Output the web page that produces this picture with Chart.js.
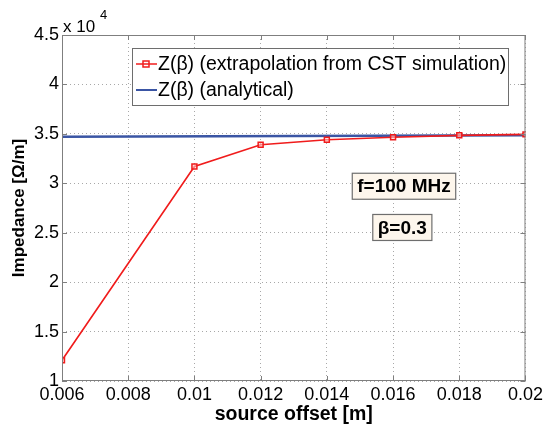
<!DOCTYPE html>
<html>
<head>
<meta charset="utf-8">
<script src="https://cdn.jsdelivr.net/npm/chart.js@4"></script>
<style>
  html, body { margin: 0; padding: 0; background: #fff; }
  #wrap { width: 546px; height: 426px; }
</style>
</head>
<body>
<div id="wrap"><canvas id="chart" width="546" height="426"></canvas></div>
<script>
// source offset [m]
const offsetsCst = [0.006, 0.006, 0.01, 0.012, 0.014, 0.016, 0.018, 0.02];
// Z(beta) extrapolated from CST, Ohm/m (first point is below the axis, no marker)
const impedanceCst = [0, 12100, 31700, 33900, 34400, 34650, 34850, 34950];
const offsetsAnalytical = [0.006, 0.02];
const impedanceAnalytical = [34700, 34870];

const xTicks = [0.006, 0.008, 0.01, 0.012, 0.014, 0.016, 0.018, 0.02];
const yTicks = [10000, 15000, 20000, 25000, 30000, 35000, 40000, 45000];

const labelCst = 'Z(β) (extrapolation from CST simulation)';
const labelAnalytical = 'Z(β) (analytical)';
const notes = ['f=100 MHz', 'β=0.3'];

const FONT = "'Liberation Sans', Arial, sans-serif";
const RED = '#f01c1c';
const BLUE = '#3a55a4';

const toPoints = (xs, ys) => xs.map((x, i) => ({ x, y: ys[i] }));

// box, ticks, legend, text boxes and the exponent label
const matlabDecor = {
  id: 'matlabDecor',
  afterDraw(chart) {
    const { ctx, chartArea: { left, top, right, bottom }, scales: { x, y } } = chart;
    ctx.save();
    ctx.strokeStyle = '#7f7f7f';
    ctx.lineWidth = 1;
    ctx.strokeRect(left + 0.5, top + 0.5, right - left - 1, bottom - top - 1);
    ctx.beginPath();
    xTicks.forEach((v) => {
      const px = Math.round(x.getPixelForValue(v)) + 0.5;
      ctx.moveTo(px, bottom); ctx.lineTo(px, bottom - 5);
      ctx.moveTo(px, top); ctx.lineTo(px, top + 5);
    });
    yTicks.forEach((v) => {
      const py = Math.round(y.getPixelForValue(v)) + 0.5;
      ctx.moveTo(left, py); ctx.lineTo(left + 5, py);
      ctx.moveTo(right, py); ctx.lineTo(right - 5, py);
    });
    ctx.stroke();

    // x 10^4
    ctx.fillStyle = '#000';
    ctx.textBaseline = 'alphabetic';
    ctx.textAlign = 'left';
    ctx.font = `17px ${FONT}`;
    ctx.fillText('x 10', left + 1, top - 3);
    ctx.font = `13px ${FONT}`;
    ctx.fillText('4', left + 38, top - 16);

    // legend
    const lx = 132, ly = 48, lw = 376, lh = 57;
    ctx.fillStyle = '#fff';
    ctx.fillRect(lx, ly, lw, lh);
    ctx.strokeStyle = '#6e6e6e';
    ctx.lineWidth = 1;
    ctx.strokeRect(lx + 0.5, ly + 0.5, lw, lh);
    const rows = [
      { label: labelCst, color: RED, width: 1.5, marker: true, y: ly + 16 },
      { label: labelAnalytical, color: BLUE, width: 2, marker: false, y: ly + 42 },
    ];
    rows.forEach((r) => {
      ctx.strokeStyle = r.color;
      ctx.lineWidth = r.width;
      ctx.beginPath();
      ctx.moveTo(lx + 4, r.y); ctx.lineTo(lx + 25, r.y);
      ctx.stroke();
      if (r.marker) {
        ctx.lineWidth = 1.5;
        ctx.strokeRect(lx + 11, r.y - 3, 6, 6);
      }
      ctx.fillStyle = '#000';
      ctx.font = `19.5px ${FONT}`;
      ctx.textBaseline = 'middle';
      ctx.fillText(r.label, lx + 26, r.y + 1);
    });

    // text boxes
    const boxes = [
      { text: notes[0], cx: x.getPixelForValue(0.01633), cy: y.getPixelForValue(29700) },
      { text: notes[1], cx: x.getPixelForValue(0.01628), cy: y.getPixelForValue(25530) },
    ];
    ctx.font = `bold 19px ${FONT}`;
    ctx.textAlign = 'center';
    ctx.textBaseline = 'middle';
    boxes.forEach((b) => {
      const w = ctx.measureText(b.text).width + 10;
      const h = 26;
      ctx.fillStyle = '#fdf6ec';
      ctx.fillRect(b.cx - w / 2, b.cy - h / 2, w, h);
      ctx.strokeStyle = '#6e6e6e';
      ctx.lineWidth = 1.2;
      ctx.strokeRect(b.cx - w / 2, b.cy - h / 2, w, h);
      ctx.fillStyle = '#000';
      ctx.fillText(b.text, b.cx, b.cy + 1);
    });
    ctx.restore();
  },
};

new Chart(document.getElementById('chart'), {
  type: 'line',
  plugins: [matlabDecor],
  data: {
    datasets: [
      {
        label: labelCst,
        data: toPoints(offsetsCst, impedanceCst),
        borderColor: RED,
        borderWidth: 1.6,
        pointStyle: 'rect',
        pointRadius: impedanceCst.map((v, i) => (i === 0 ? 0 : 3.5)),
        pointBorderColor: RED,
        pointBorderWidth: 1.5,
        pointBackgroundColor: 'rgba(255,200,200,0.6)',
        tension: 0,
      },
      {
        label: labelAnalytical,
        data: toPoints(offsetsAnalytical, impedanceAnalytical),
        borderColor: BLUE,
        borderWidth: 2.5,
        pointRadius: 0,
        tension: 0,
      },
    ],
  },
  options: {
    responsive: false,
    animation: false,
    layout: { padding: { top: 35, right: 19, left: 0, bottom: 0 } },
    plugins: {
      legend: { display: false },
      tooltip: { enabled: false },
    },
    scales: {
      x: {
        type: 'linear',
        min: 0.006,
        max: 0.02,
        afterBuildTicks: (s) => { s.ticks = xTicks.map((v) => ({ value: v })); },
        afterFit: (s) => { s.height = 45; },
        border: { display: false, dash: [1, 3] },
        grid: { color: '#a8a8a8', drawTicks: false },
        ticks: {
          color: '#000',
          padding: 3,
          maxRotation: 0,
          font: { size: 18, family: FONT },
          callback: (v) => String(Math.round(v * 1000) / 1000),
        },
        title: {
          display: true,
          text: 'source offset [m]',
          color: '#000',
          padding: 0,
          font: { size: 19.5, weight: 'bold', family: FONT },
        },
      },
      y: {
        min: 10000,
        max: 45000,
        afterBuildTicks: (s) => { s.ticks = yTicks.map((v) => ({ value: v })); },
        afterFit: (s) => { s.width = 62; },
        border: { display: false, dash: [1, 3] },
        grid: { color: '#a8a8a8', drawTicks: false },
        ticks: {
          color: '#000',
          padding: 3,
          font: { size: 18, family: FONT },
          callback: (v) => String(v / 10000),
        },
        title: {
          display: true,
          text: 'Impedance [Ω/m]',
          color: '#000',
          padding: { top: 9, bottom: 0 },
          font: { size: 17, weight: 'bold', family: FONT },
        },
      },
    },
  },
});
</script>
</body>
</html>
